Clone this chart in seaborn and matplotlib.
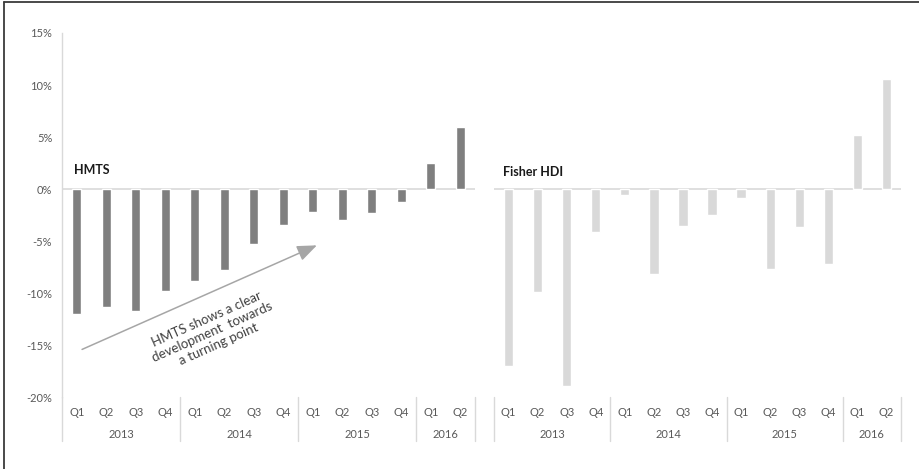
import matplotlib
matplotlib.use("Agg")
import matplotlib.pyplot as plt
from matplotlib.lines import Line2D
import seaborn as sns
import pandas as pd

# ---- data ----
quarters = ["Q1", "Q2", "Q3", "Q4", "Q1", "Q2", "Q3", "Q4", "Q1", "Q2", "Q3", "Q4", "Q1", "Q2"]
years = [2013, 2013, 2013, 2013, 2014, 2014, 2014, 2014, 2015, 2015, 2015, 2015, 2016, 2016]
hmts = [-12.0, -11.3, -11.7, -9.8, -8.8, -7.8, -5.3, -3.4, -2.2, -3.0, -2.3, -1.2, 2.5, 6.0]
fisher = [-17.0, -9.9, -18.9, -4.1, -0.6, -8.2, -3.5, -2.5, -0.9, -7.7, -3.6, -7.2, 5.2, 10.6]
yticks = [-20, -15, -10, -5, 0, 5, 10, 15]
panel_titles = ["HMTS", "Fisher HDI"]
annotation = "HMTS shows a clear\ndevelopment  towards\na turning point"

periods = [f"{y} {q}" for y, q in zip(years, quarters)]
df = pd.DataFrame({"period": periods, "quarter": quarters, "year": years,
                   "HMTS": hmts, "Fisher HDI": fisher})

sns.set_theme(style="white")
plt.rcParams["font.family"] = ["Lato", "DejaVu Sans"]

W, H = 920, 469
fig = plt.figure(figsize=(W / 100, H / 100), dpi=100)
fig.patch.set_facecolor("white")

def px_rect(x0, x1, ytop, ybot):
    return [x0 / W, 1 - ybot / H, (x1 - x0) / W, (ybot - ytop) / H]

ax1 = fig.add_axes(px_rect(62, 475, 33, 397.3))
ax2 = fig.add_axes(px_rect(494, 901, 33, 397.3))

label_col = "#595959"
line_col = "#d9d9d9"
fs = 8

# year group boundaries
bounds = [-0.5]
for i in range(1, len(years)):
    if years[i] != years[i - 1]:
        bounds.append(i - 0.5)
bounds.append(len(years) - 0.5)
groups = []
for y in dict.fromkeys(years):
    idx = [i for i, v in enumerate(years) if v == y]
    groups.append((y, (idx[0] + idx[-1]) / 2))

for ax, col, color, title, tx, ty in [(ax1, "HMTS", "#7f7f7f", panel_titles[0], -0.09, 1.8),
                                      (ax2, "Fisher HDI", "#d9d9d9", panel_titles[1], -0.19, 1.6)]:
    sns.barplot(data=df, x="period", y=col, order=periods, color=color,
                saturation=1, width=0.32, ax=ax)
    ax.set_ylim(-20, 15)
    ax.set_xlim(-0.5, len(periods) - 0.5)
    ax.set_xlabel("")
    ax.set_ylabel("")
    for s in ["top", "right", "bottom", "left"]:
        ax.spines[s].set_visible(False)
    ax.axhline(0, color=line_col, lw=1.2, zorder=0)
    ax.set_xticks(range(len(periods)))
    ax.set_xticklabels(quarters, fontsize=fs, color=label_col)
    ax.tick_params(axis="x", length=0, pad=7)
    # group separators
    for b in bounds:
        ax.plot([b, b], [0, -0.119], transform=ax.get_xaxis_transform(),
                color=line_col, lw=1, clip_on=False)
    for y, c in groups:
        ax.text(c, -0.103, str(y), transform=ax.get_xaxis_transform(),
                ha="center", va="center", fontsize=fs, color=label_col)
    ax.text(tx, ty, title, fontsize=9, fontweight="bold",
            color="#1a1a1a", ha="left", va="center")

# left axis: y labels and axis line
ax1.set_yticks(yticks)
ax1.set_yticklabels([f"{v}%" for v in yticks], fontsize=fs, color=label_col)
ax1.tick_params(axis="y", length=0, pad=7)
ax1.spines["left"].set_visible(True)
ax1.spines["left"].set_color(line_col)
ax1.spines["left"].set_linewidth(1)
ax2.set_yticks([])

# annotation arrow and text
ax1.annotate("", xy=(8.14, -5.4), xytext=(0.18, -15.4),
             arrowprops=dict(arrowstyle="-|>,head_length=1.0,head_width=0.4",
                             color="#a6a6a6", lw=1.1, shrinkA=0, shrinkB=0))
ax1.text(4.6, -13.7, annotation, rotation=24, rotation_mode="anchor",
         ha="center", va="center", multialignment="center",
         fontsize=9.5, color="#404040", linespacing=1.2)

# figure border (top and left)
fig.add_artist(Line2D([4 / W, 4 / W], [0, 1 - 2.5 / H], color="#3a3a3a", lw=1.3))
fig.add_artist(Line2D([4 / W, 1], [1 - 2.5 / H, 1 - 2.5 / H], color="#3a3a3a", lw=1.3))

fig.savefig("out.png", dpi=100)
